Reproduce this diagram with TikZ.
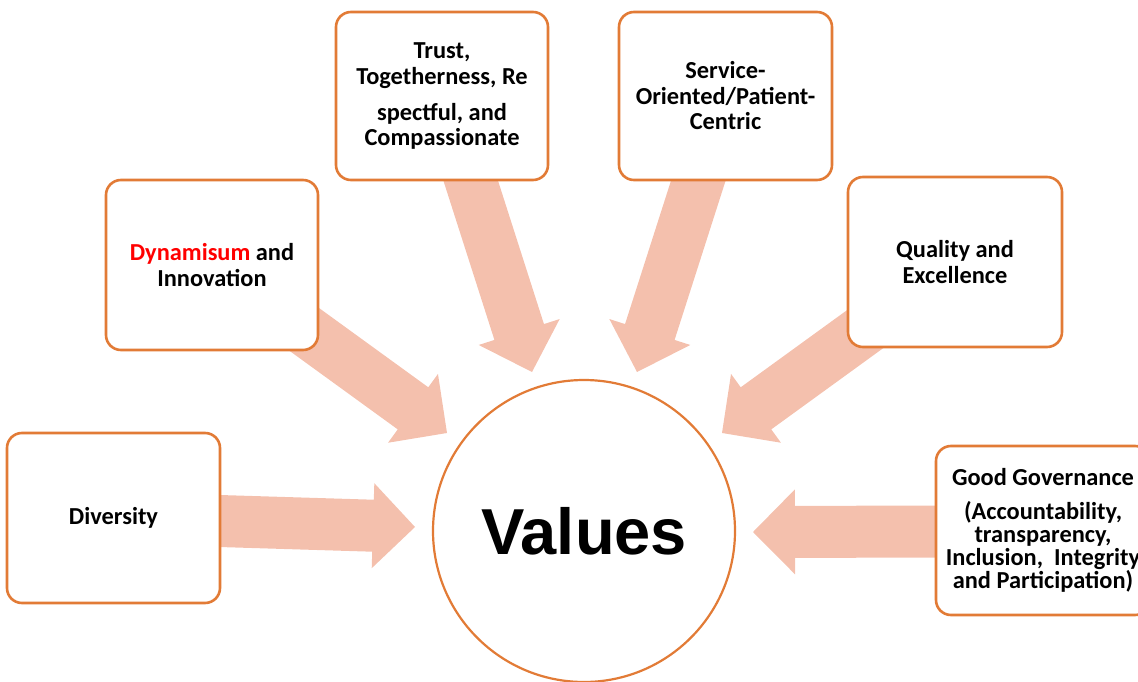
\documentclass[tikz,border=0pt]{standalone}
\usepackage{fontspec}
\setmainfont{Carlito}
\newfontfamily\headfont{Liberation Sans}
\usetikzlibrary{calc}
\definecolor{edge}{HTML}{E27B36}
\definecolor{salmon}{HTML}{F4C0AD}
\definecolor{hot}{HTML}{FF0000}
\lineskiplimit=-100pt

% Block arrow from coordinate #1 (tail) to coordinate #2 (tip)
\newcommand\fatarrow[2]{%
  \coordinate (#1-base) at ($(#2)!42pt!(#1)$);
  \fill[salmon] ($(#1)!26pt!90:(#2)$) -- ($(#1-base)!26pt!90:(#2)$)
    -- ($(#1-base)!42.5pt!90:(#2)$) -- (#2)
    -- ($(#1-base)!42.5pt!-90:(#2)$) -- ($(#1-base)!26pt!-90:(#2)$)
    -- ($(#1)!26pt!-90:(#2)$) -- cycle;}

\begin{document}
\begin{tikzpicture}[x=1pt,y=-1pt,
  box/.style={draw=edge, line width=2.6pt, rounded corners=15pt, fill=white,
    align=center, font=\fontsize{24.4}{26.5}\selectfont\bfseries},
  hub/.style={circle, draw=edge, line width=2.2pt, fill=white, minimum size=302pt,
    inner sep=0pt, font=\headfont\bfseries\fontsize{65}{72}\selectfont}]
\useasboundingbox (0,0) rectangle (1138,682);

% tails (inside the boxes) and tips of the block arrows
\coordinate (dv-s) at (200,520.4);   \coordinate (dv-t) at (415,527);
\coordinate (dy-s) at (288.8,318.2); \coordinate (dy-t) at (447,433);
\coordinate (tr-s) at (464.4,161);   \coordinate (tr-t) at (532,372);
\coordinate (sv-s) at (704.6,161);   \coordinate (sv-t) at (637,372);
\coordinate (ql-s) at (880.2,318.2); \coordinate (ql-t) at (722,433);
\coordinate (gg-s) at (956,531.5);   \coordinate (gg-t) at (753,532);

\fatarrow{dv-s}{dv-t}
\fatarrow{dy-s}{dy-t}
\fatarrow{tr-s}{tr-t}
\fatarrow{sv-s}{sv-t}
\fatarrow{ql-s}{ql-t}
\fatarrow{gg-s}{gg-t}

% value boxes
\node[box, minimum width=212pt, minimum height=168pt] (trust) at (442,96)
  {Trust,\\Togetherness, Re\\[9pt]spectful, and\\[-1pt]Compassionate};
\node[box, minimum width=213pt, minimum height=168pt,
  font=\fontsize{24.4}{25.5}\selectfont\bfseries] (service) at (725.5,96)
  {Service-\\Oriented/Patient-\\Centric};
\node[box, minimum width=212pt, minimum height=170pt] (dynamism) at (212,265)
  {{\color{hot}Dynamisum} and\\Innovation};
\node[box, minimum width=214pt, minimum height=170pt] (quality) at (955,262)
  {Quality and\\Excellence};
\node[box, minimum width=213pt, minimum height=170pt] (diversity) at (113.5,518)
  {Diversity};
\node[box, minimum width=214pt, minimum height=169pt,
  font=\fontsize{24.4}{23}\selectfont\bfseries] (governance) at (1043,530.5)
  {Good Governance\\[11.5pt](Accountability,\\transparency,\\Inclusion,~ Integrity\\and Participation)};

% centre
\node[hub] (values) at (584,531) {Values};
\end{tikzpicture}
\end{document}
